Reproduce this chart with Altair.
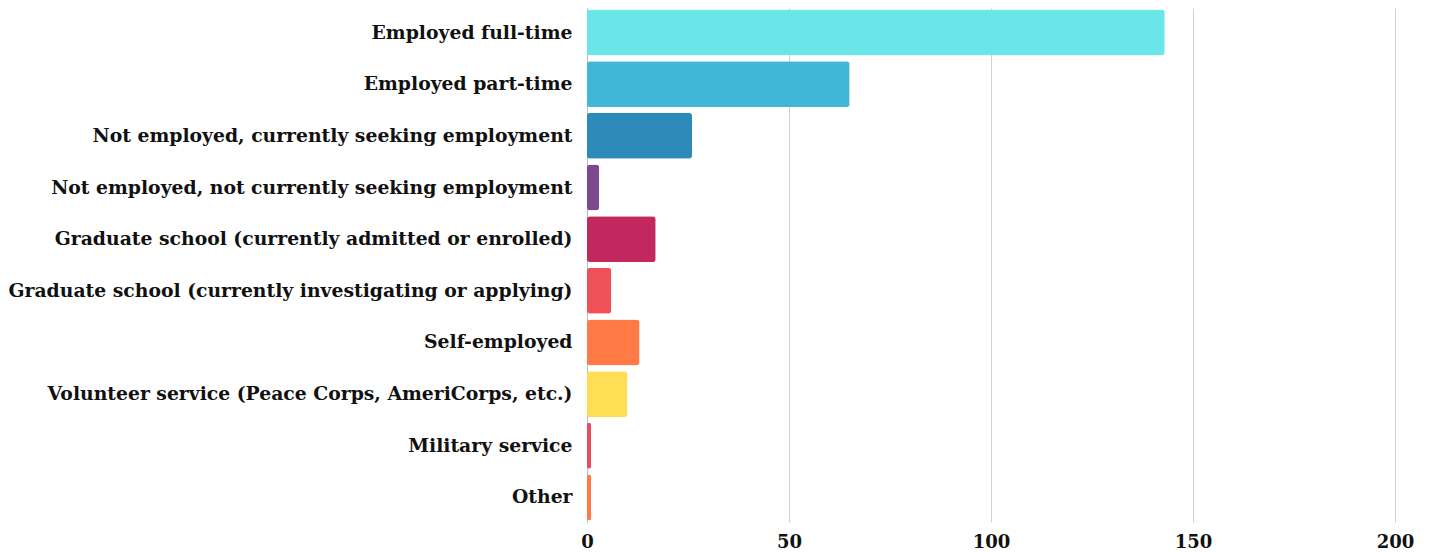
import altair as alt
import pandas as pd

categories = [
    "Employed full-time",
    "Employed part-time",
    "Not employed, currently seeking employment",
    "Not employed, not currently seeking employment",
    "Graduate school (currently admitted or enrolled)",
    "Graduate school (currently investigating or applying)",
    "Self-employed",
    "Volunteer service (Peace Corps, AmeriCorps, etc.)",
    "Military service",
    "Other",
]
values = [143, 65, 26, 3, 17, 6, 13, 10, 1, 1]
colors = ["#6be6e8", "#41b6d6", "#2d8bba", "#7b4a8c", "#c2285e",
          "#ef5158", "#ff7a45", "#ffdd55", "#e84d5b", "#ff7a45"]

df = pd.DataFrame({"category": categories, "value": values})

FONT = "DejaVu Serif"

chart = alt.Chart(df).mark_bar(cornerRadius=3).encode(
    y=alt.Y("category:N", sort=categories, title=None,
            scale=alt.Scale(paddingInner=0.11, paddingOuter=0.03),
            axis=alt.Axis(labelFont=FONT, labelFontSize=18.8, labelFontWeight="bold",
                          labelColor="#111", labelPadding=15, ticks=False,
                          domainColor="#bbb", labelLimit=1000)),
    x=alt.X("value:Q", title=None,
            scale=alt.Scale(domain=[0, 200]),
            axis=alt.Axis(values=[0, 50, 100, 150, 200], labelFont=FONT, labelFontSize=18,
                          labelFontWeight="bold", labelColor="#111", ticks=False,
                          domain=False, gridColor="#d0d0d0", labelPadding=11,
                          labelFlush=False)),
    color=alt.Color("category:N", sort=categories,
                    scale=alt.Scale(domain=categories, range=colors), legend=None),
).properties(width=808, height=514, padding=0).configure_view(stroke=None)

chart.save("out.html", embed_options={"renderer": "svg", "actions": False})
